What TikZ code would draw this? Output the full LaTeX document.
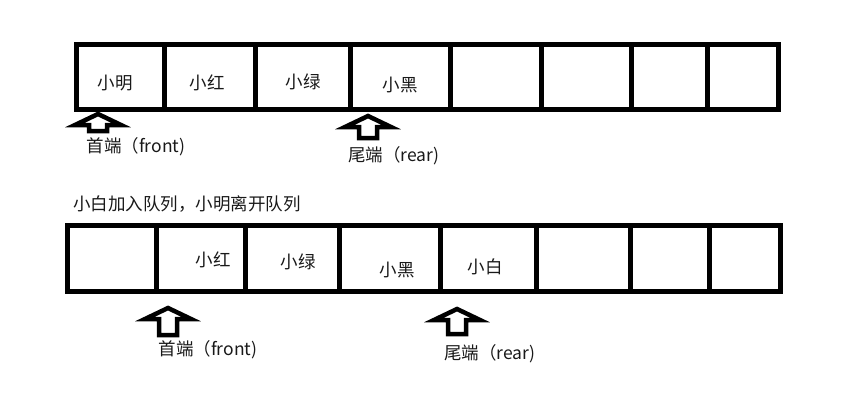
\documentclass[tikz,border=0pt]{standalone}
\usepackage{fontspec}
\newfontfamily\cjk{Noto Sans CJK SC}
\usetikzlibrary{positioning}

% hollow up-pointer under a cell: centre x, tip y, bottom y
\newcommand\qptr[3]{%
  \draw[ptr] (#1,#2) -- ++(23,11) -- ++(-14,0) -- ({#1+9},#3) -- ({#1-9},#3)
    -- ({#1-9},{#2+11}) -- ++(-14,0) -- cycle;}

\begin{document}
\begin{tikzpicture}[x=1pt, y=-1pt,
  frame/.style={line width=5pt, line join=miter},
  ptr/.style={line width=4.5pt, line join=miter},
  lbl/.style={font=\cjk\fontsize{17.5}{20}\selectfont, inner sep=0pt, text=black!90}
]
\useasboundingbox (0,0) rectangle (848,415);

% before: queue with four people
\draw[frame] (76,44) rectangle (778,109);
\foreach \x in {164,255,350,450,541,631,707}
  \draw[frame] (\x,44) -- (\x,109);
\node[lbl] (ming) at (115,83) {小明};
\node[lbl] (hong) at (207,83) {小红};
\node[lbl] (lv)   at (303,82) {小绿};
\node[lbl] (hei)  at (400,85) {小黑};

\qptr{98}{114}{131}
\node[lbl] (front) at (136,147) {首端（front)};
\qptr{368}{116}{138}
\node[lbl] (rear) at (394,156) {尾端（rear)};

% after
\node[lbl, anchor=west] (note) at (73,204) {小白加入队列，小明离开队列};

\draw[frame] (67,225) rectangle (780,291);
\foreach \x in {156,245,339,440,536,630,709}
  \draw[frame] (\x,225) -- (\x,291);
\node[lbl] (hong2) at (213,260) {小红};
\node[lbl] (lv2)   at (298,262) {小绿};
\node[lbl] (hei2)  at (397,270) {小黑};
\node[lbl] (bai2)  at (485,267) {小白};

\qptr{168}{308}{335}
\node[lbl] (front2) at (208,350) {首端（front)};
\qptr{457}{309}{334}
\node[lbl] (rear2) at (490,354) {尾端（rear)};
\end{tikzpicture}
\end{document}
